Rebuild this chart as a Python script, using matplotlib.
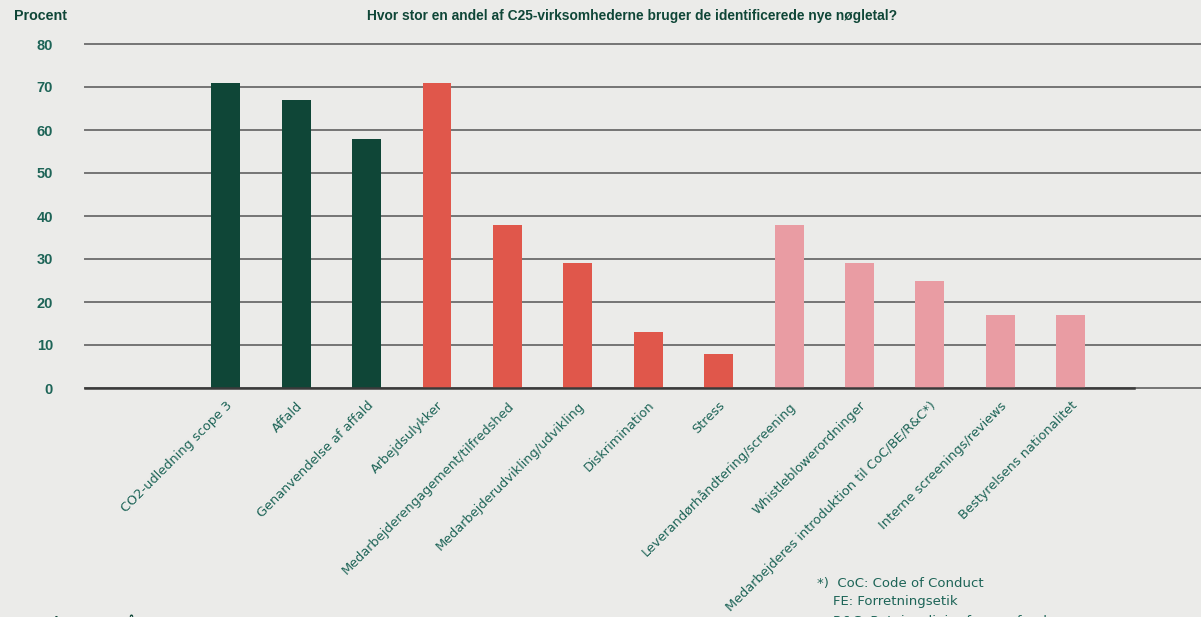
import numpy as np
import matplotlib.pyplot as plt

# DATA
categories = ["CO2-udledning scope 3", "Affald", "Genanvendelse af affald",
              "Arbejdsulykker", "Medarbejderengagement/tilfredshed",
              "Medarbejderudvikling/udvikling", "Diskrimination", "Stress",
              "Leverandørhåndtering/screening", "Whistleblowerordninger",
              "Medarbejderes introduktion til CoC/BE/R&C*)",
              "Interne screenings/reviews", "Bestyrelsens nationalitet"]
values = [71, 67, 58, 71, 38, 29, 13, 8, 38, 29, 25, 17, 17]
groups = ["E", "E", "E", "S", "S", "S", "S", "S", "G", "G", "G", "G", "G"]
yticks = [0, 10, 20, 30, 40, 50, 60, 70, 80]

group_colors = {"E": "#0f4637", "S": "#e0574b", "G": "#e99ca3"}
bg = "#ebebe9"
teal = "#1d6457"
dark = "#0f4637"
head_font = ["Liberation Sans", "DejaVu Sans"]

# PLOT
fig = plt.figure(figsize=(12.01, 6.17), dpi=100, facecolor=bg)
ax = fig.add_axes([85 / 1201, (617 - 388) / 617, 1 - 85 / 1201, (388 - 44) / 617])
ax.set_facecolor(bg)

x = np.arange(len(categories))
ax.set_xlim(-2.0, 13.85)
ax.set_ylim(0, 80)

for t in yticks:
    ax.axhline(t, color="#747474", lw=1.4, zorder=1, clip_on=False)
ax.plot([-2.0, 12.9], [0, 0], color="#3a3a3a", lw=1.8, zorder=3, clip_on=False)

ax.bar(x, values, width=0.41, color=[group_colors[g] for g in groups], zorder=2)

for s in ax.spines.values():
    s.set_visible(False)
ax.tick_params(length=0)
ax.set_yticks(yticks)
ax.set_yticklabels([str(t) for t in yticks], fontsize=10.5, color=teal,
                   fontweight="bold", family=head_font)
ax.tick_params(axis="y", pad=23)
ax.set_xticks(x)
ax.set_xticklabels(categories, rotation=45, ha="right", rotation_mode="anchor",
                   fontsize=9.3, color=teal)
ax.tick_params(axis="x", pad=8)

fig.text(14 / 1201, 1 - 16 / 617, "Procent", fontsize=10.3, fontweight="bold",
         color=dark, va="center", ha="left", family=head_font)
fig.text(632 / 1201, 1 - 16 / 617,
         "Hvor stor en andel af C25-virksomhederne bruger de identificerede nye nøgletal?",
         fontsize=9.9, fontweight="bold", color=dark, va="center", ha="center",
         family=head_font)

# footnote (partly cut off at the bottom edge, as in the source page)
fig.text(817 / 1201, 1 - 584 / 617, "*)  CoC: Code of Conduct", fontsize=9.5,
         color=teal, va="center", ha="left")
fig.text(833 / 1201, 1 - 602 / 617, "FE: Forretningsetik", fontsize=9.5,
         color=teal, va="center", ha="left")
fig.text(833 / 1201, 1 - 621 / 617, "R&C: Retningslinjer for samfundsansvar",
         fontsize=9.5, color=teal, va="center", ha="left")
fig.text(45 / 1201, 1 - 622 / 617, "Vi Lars Bratås  –  ESG Barometer 2021",
         fontsize=9, fontweight="bold", color=dark, va="center", ha="left")

fig.savefig("out.png", dpi=100, facecolor=bg)
